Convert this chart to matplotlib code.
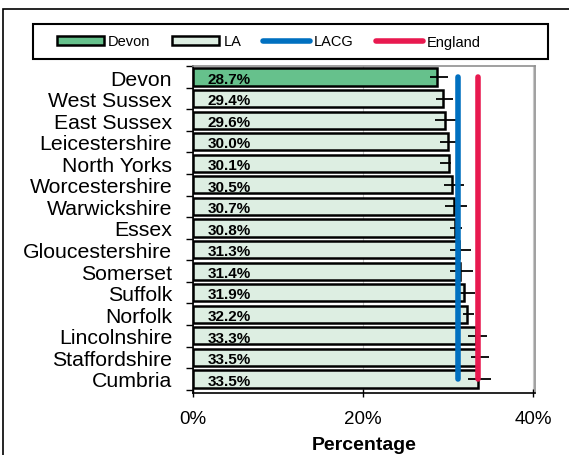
import numpy as np
import matplotlib
matplotlib.use("Agg")
import matplotlib.pyplot as plt
from matplotlib.patches import Patch, Rectangle
from matplotlib.lines import Line2D

plt.rcParams['font.family'] = ['Liberation Sans', 'DejaVu Sans']

# data
areas = ["Devon", "West Sussex", "East Sussex", "Leicestershire", "North Yorks",
         "Worcestershire", "Warwickshire", "Essex", "Gloucestershire", "Somerset",
         "Suffolk", "Norfolk", "Lincolnshire", "Staffordshire", "Cumbria"]
values = [28.7, 29.4, 29.6, 30.0, 30.1, 30.5, 30.7, 30.8, 31.3, 31.4,
          31.9, 32.2, 33.3, 33.5, 33.5]
ci_low = [27.9, 28.55, 28.5, 29.1, 29.05, 29.5, 29.7, 30.2, 30.3, 30.3,
          31.4, 31.8, 32.4, 32.7, 32.4]
ci_high = [30.0, 30.6, 30.9, 30.9, 30.4, 31.9, 32.2, 31.7, 32.7, 33.0,
           33.2, 33.1, 34.6, 34.8, 35.1]
lacg = 31.2
england = 33.5

c_devon = '#66C18C'
c_la = '#DDEEE2'
c_lacg = '#0070C0'
c_eng = '#E8194F'

fig = plt.figure(figsize=(5.69, 4.56), dpi=100)
ax = fig.add_axes([193/569, 1-394/456, (535-193)/569, (394-67)/456])

y = np.arange(len(areas))
colors = [c_devon if a == "Devon" else c_la for a in areas]
ax.grid(axis='x', color='#c8c8c8', lw=0.8, zorder=0)
ax.barh(y, values, height=0.8, color=colors, edgecolor='black', lw=1.8, zorder=2)

err = [np.array(values) - np.array(ci_low), np.array(ci_high) - np.array(values)]
ax.errorbar(values, y, xerr=err, fmt='none', ecolor='black', elinewidth=1.3,
            capsize=0, zorder=4)

ax.plot([lacg, lacg], [0, len(areas)-1], color=c_lacg, lw=4,
        solid_capstyle='round', zorder=5)
ax.plot([england, england], [0, len(areas)-1], color=c_eng, lw=4,
        solid_capstyle='round', zorder=5)

for yi, v in zip(y, values):
    ax.text(1.7, yi + 0.08, f"{v:.1f}%", fontsize=11, fontweight='bold',
            va='center', ha='left', zorder=6)

ax.set_xlim(0, 40.25)
ax.set_ylim(len(areas) - 1 + 0.65, -0.51)
ax.set_xticks([0, 20, 40])
ax.set_xticklabels(["0%", "20%", "40%"], fontsize=13.5)
ax.set_yticks(y)
ax.set_yticklabels(areas, fontsize=15.3)
ax.set_yticks(np.arange(-0.5, len(areas), 1), minor=True)
ax.tick_params(axis='y', which='major', length=0, pad=15)
ax.tick_params(axis='y', which='minor', length=5, width=1, direction='out')
ax.tick_params(axis='x', length=6, width=1, direction='inout', pad=9)
ax.set_xlabel("Percentage", fontsize=14, fontweight='bold', labelpad=7)

for s in ['top', 'right']:
    ax.spines[s].set_color('#909090')
    ax.spines[s].set_linewidth(1.2)
for s in ['left', 'bottom']:
    ax.spines[s].set_color('black')
    ax.spines[s].set_linewidth(1.2)

handles = [Patch(facecolor=c_devon, edgecolor='black', lw=1.8),
           Patch(facecolor=c_la, edgecolor='black', lw=1.8),
           Line2D([0], [0], color=c_lacg, lw=4, solid_capstyle='round'),
           Line2D([0], [0], color=c_eng, lw=4, solid_capstyle='round')]
leg = fig.legend(handles, ["Devon", "LA", "LACG", "England"], ncol=4,
                 loc='center', bbox_to_anchor=(269/569, 1-42.5/456),
                 fontsize=10.5, frameon=False,
                 handlelength=3.2, handleheight=0.6, handletextpad=0.3,
                 columnspacing=1.5)

# legend box, wider than its entries
fig.patches.append(Rectangle((33/569, 1-60/456), (548-33)/569, 35/456,
                             transform=fig.transFigure, fill=False,
                             edgecolor='black', lw=1.5))

# outer frame (cut at the right and bottom edges)
fig.patches.append(Rectangle((3/569, -0.1), 1.5, 1-10/456+0.1, transform=fig.transFigure,
                             fill=False, edgecolor='black', lw=1.2))

fig.savefig("out.png", dpi=100)
